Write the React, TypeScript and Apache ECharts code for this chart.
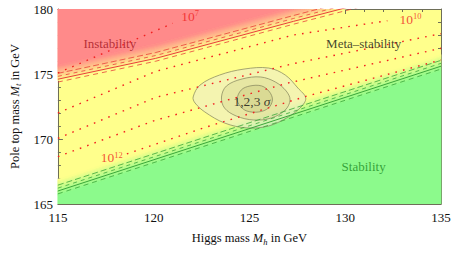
import React, { useEffect, useRef } from "react";
import * as echarts from "echarts";

const FONT = "'Liberation Serif', 'DejaVu Serif', serif";
const FRAME = "#6e6e58";

// Axis ranges / ticks
const xRange = [115, 135];
const yRange = [165, 180];
const tickStep = 5;

// Boundary lines (Higgs mass Mh, top mass Mt)
const instabilityMh = [115, 120.1, 127.3, 135];
const instabilityMt = [174.6, 176.2, 179.05, 182.0];
const stabilityMh = [115, 135];
const stabilityMt = [166.0, 175.6];

// Dotted instability-scale contours
const scale7Mh = [115, 121.0];
const scale7Mt = [175.08, 178.9];
const scale10Mh = [115, 120.1, 127.3, 132.2];
const scale10Mt = [172.0, 175.2, 178.0, 179.1];
const scaleAMh = [115, 120.1, 127.3, 135];
const scaleAMt = [170.05, 173.2, 175.8, 178.1];
const scaleBMh = [115, 120, 127, 135];
const scaleBMt = [168.64, 171.4, 174.3, 176.98];
const scale12Mh = [118.6, 122.7, 128, 135];
const scale12Mt = [168.85, 170.9, 173.3, 176.08];

// 1,2,3 sigma contours
const sigma3Mh = [122.06, 122.42, 123.44, 124.72, 126.0, 126.87, 127.53, 127.94, 127.69, 127.02, 126.0, 124.87, 123.7, 122.67, 122.16];
const sigma3Mt = [173.23, 174.15, 174.92, 175.38, 175.46, 174.92, 173.92, 173.15, 172.46, 171.69, 171.0, 170.85, 171.23, 172.08, 172.77];
const sigma2Mh = [123.54, 123.8, 124.62, 125.59, 126.36, 126.92, 127.12, 126.87, 126.15, 125.23, 124.31, 123.7];
const sigma2Mt = [173.23, 174.08, 174.62, 174.77, 174.38, 173.69, 173.0, 172.23, 171.62, 171.46, 171.77, 172.38];
const sigma1Mh = [124.36, 124.57, 125.03, 125.64, 126.05, 126.2, 125.99, 125.49, 124.87, 124.51];
const sigma1Mt = [173.08, 173.77, 174.08, 174.08, 173.62, 173.0, 172.38, 172.08, 172.15, 172.54];

// Text labels
const regionNames = ["Instability", "Meta\u2013stability", "Stability"];
const regionMh = [117.71, 130.96, 130.96];
const regionMt = [177.38, 177.38, 167.92];
const regionColors = ["#a3151f", "#111111", "#1c8a24"];
const scaleExponents = ["7", "10", "12"];
const scaleLabelMh = [121.9, 133.41, 117.81];
const scaleLabelMt = [179.46, 179.23, 168.54];
const sigmaLabelMh = 125.13;
const sigmaLabelMt = 172.92;

const YELLOW = [255, 255, 140];
const RED = [255, 138, 138];
const GREEN = [140, 250, 140];

const mix = (a: number[], b: number[], t: number) =>
  `rgb(${a.map((v, i) => Math.round(v + (b[i] - v) * t)).join(",")})`;

const offsetPts = (mh: number[], mt: number[], off: number) =>
  mh.map((x, i) => [x, mt[i] + off]);

const zip = (a: number[], b: number[]) => a.map((x, i) => [x, b[i]]);

export default function App() {
  const ref = useRef<HTMLDivElement>(null);

  useEffect(() => {
    const chart = echarts.init(ref.current!, null, { renderer: "svg" });

    // build region polygons
    const strips: { pts: number[][]; color: string }[] = [];
    const rLo = -0.1, rHi = 1.1, nR = 14;
    strips.push({
      pts: [...offsetPts(instabilityMh, instabilityMt, rHi), [135, 195], [115, 195]],
      color: mix(RED, RED, 0),
    });
    for (let k = 0; k < nR; k++) {
      const a = rLo + ((rHi - rLo) * k) / nR;
      const b = rLo + ((rHi - rLo) * (k + 1)) / nR;
      strips.push({
        pts: [...offsetPts(instabilityMh, instabilityMt, a), ...offsetPts(instabilityMh, instabilityMt, b).reverse()],
        color: mix(YELLOW, RED, (k + 0.5) / nR),
      });
    }
    const gLo = -0.3, gHi = 0.9, nG = 14;
    strips.push({
      pts: [[115, 150], [135, 150], ...offsetPts(stabilityMh, stabilityMt, gLo).reverse()],
      color: mix(GREEN, GREEN, 0),
    });
    for (let k = 0; k < nG; k++) {
      const a = gLo + ((gHi - gLo) * k) / nG;
      const b = gLo + ((gHi - gLo) * (k + 1)) / nG;
      strips.push({
        pts: [...offsetPts(stabilityMh, stabilityMt, a), ...offsetPts(stabilityMh, stabilityMt, b).reverse()],
        color: mix(GREEN, YELLOW, (k + 0.5) / nG),
      });
    }

    const sigmas = [
      { pts: zip(sigma3Mh, sigma3Mt), fill: "rgba(235,235,205,0.55)" },
      { pts: zip(sigma2Mh, sigma2Mt), fill: "rgba(205,205,140,0.35)" },
      { pts: zip(sigma1Mh, sigma1Mt), fill: "rgba(195,195,120,0.35)" },
    ];

    const bandLine = (mh: number[], mt: number[], off: number, color: string, type: any, width: number) => ({
      type: "line",
      data: offsetPts(mh, mt, off),
      symbol: "none",
      silent: true,
      z: 5,
      lineStyle: { color, width, type },
    });

    const bandOffsets = [0, 0.45, 0.22, -0.22];
    const bandTypes: any[] = ["solid", [6, 3], [4, 4], [5, 4]];
    const bandWidths = [1, 0.8, 0.8, 0.8];

    const dotted = (mh: number[], mt: number[]) => ({
      type: "line",
      data: zip(mh, mt),
      symbol: "none",
      silent: true,
      z: 6,
      lineStyle: { color: "#f22020", width: 1.4, type: [1.6, 6.2] },
    });

    const richSup = {
      b: { fontFamily: FONT, fontSize: 13.5, color: "#f01e1e", lineHeight: 15 },
      s: { fontFamily: FONT, fontSize: 8.5, color: "#f01e1e", lineHeight: 9, verticalAlign: "top" },
    };

    const labelData: any[] = [];
    regionNames.forEach((n, i) =>
      labelData.push({
        value: [regionMh[i], regionMt[i]],
        label: { formatter: n, color: regionColors[i], fontFamily: FONT, fontSize: 13 },
      })
    );
    scaleExponents.forEach((e, i) =>
      labelData.push({
        value: [scaleLabelMh[i], scaleLabelMt[i]],
        label: { formatter: `{b|10}{s|${e}}`, rich: richSup },
      })
    );
    labelData.push({
      value: [sigmaLabelMh, sigmaLabelMt],
      label: {
        formatter: "{n|1,2,3 }{i|\u03c3}",
        rich: {
          n: { fontFamily: FONT, fontSize: 13.5, color: "#111" },
          i: { fontFamily: FONT, fontSize: 13.5, color: "#111", fontStyle: "italic" },
        },
      },
    });

    const axisCommon = {
      type: "value",
      interval: tickStep,
      axisLine: { show: true, onZero: false, lineStyle: { color: FRAME, width: 1 } },
      axisTick: { show: true, inside: true, length: 5, lineStyle: { color: FRAME } },
      minorTick: { show: true, splitNumber: 5, length: 3, lineStyle: { color: FRAME } },
      splitLine: { show: false },
      minorSplitLine: { show: false },
    };
    const tickLabel = { color: "#111", fontFamily: FONT, fontSize: 13 };
    const nameRich = {
      n: { fontFamily: FONT, fontSize: 12.5, color: "#111", lineHeight: 16 },
      i: { fontFamily: FONT, fontSize: 12.5, color: "#111", fontStyle: "italic", lineHeight: 16 },
      s: { fontFamily: FONT, fontSize: 8.5, color: "#111", fontStyle: "italic", lineHeight: 10, verticalAlign: "bottom" },
    };

    const option: any = {
      animation: false,
      grid: {
        left: 50, right: 16, top: 9, bottom: 50,
        show: true, backgroundColor: mix(YELLOW, YELLOW, 0), borderWidth: 0,
      },
      xAxis: [
        {
          ...axisCommon, min: xRange[0], max: xRange[1], position: "bottom",
          axisLabel: { ...tickLabel, margin: 7 },
          name: "{n|Higgs mass }{i|M}{s|h}{n| in GeV}",
          nameLocation: "middle", nameGap: 26,
          nameTextStyle: { rich: nameRich },
        },
        { ...axisCommon, min: xRange[0], max: xRange[1], position: "top", axisLabel: { show: false } },
      ],
      yAxis: [
        {
          ...axisCommon, min: yRange[0], max: yRange[1], position: "left",
          axisLabel: { ...tickLabel, margin: 5 },
          name: "{n|Pole top mass }{i|M}{s|t}{n| in GeV}",
          nameLocation: "middle", nameGap: 32,
          nameTextStyle: { rich: nameRich },
        },
        { ...axisCommon, min: yRange[0], max: yRange[1], position: "right", axisLabel: { show: false } },
      ],
      series: [
        {
          type: "custom",
          clip: true,
          silent: true,
          z: 1,
          data: strips.map((_, i) => [115, 170, i]),
          renderItem: (params: any, api: any) => {
            const s = strips[params.dataIndex];
            return {
              type: "polygon",
              shape: { points: s.pts.map((p) => api.coord(p)) },
              style: { fill: s.color, stroke: s.color, lineWidth: 0.8 },
            };
          },
        },
        {
          type: "custom",
          clip: true,
          silent: true,
          z: 3,
          data: sigmas.map((_, i) => [125, 173, i]),
          renderItem: (params: any, api: any) => {
            const s = sigmas[params.dataIndex];
            return {
              type: "polygon",
              shape: { points: s.pts.map((p) => api.coord(p)), smooth: 0.35 },
              style: { fill: s.fill, stroke: "rgba(130,130,90,0.7)", lineWidth: 1 },
            };
          },
        },
        ...bandOffsets.map((o, i) => bandLine(instabilityMh, instabilityMt, o, "#e8403a", bandTypes[i], bandWidths[i])),
        ...bandOffsets.map((o, i) => bandLine(stabilityMh, stabilityMt, o, "#3aa63a", bandTypes[i], bandWidths[i])),
        dotted(scale7Mh, scale7Mt),
        dotted(scale10Mh, scale10Mt),
        dotted(scaleAMh, scaleAMt),
        dotted(scaleBMh, scaleBMt),
        dotted(scale12Mh, scale12Mt),
        {
          type: "scatter",
          symbolSize: 1,
          silent: true,
          z: 10,
          itemStyle: { color: "rgba(0,0,0,0)" },
          label: { show: true, position: "inside" },
          data: labelData,
        },
      ],
    };

    chart.setOption(option);
    return () => chart.dispose();
  }, []);

  return (
    <div
      ref={ref}
      style={{ width: 457, height: 254, position: "absolute", left: 0, top: 0 }}
    />
  );
}
